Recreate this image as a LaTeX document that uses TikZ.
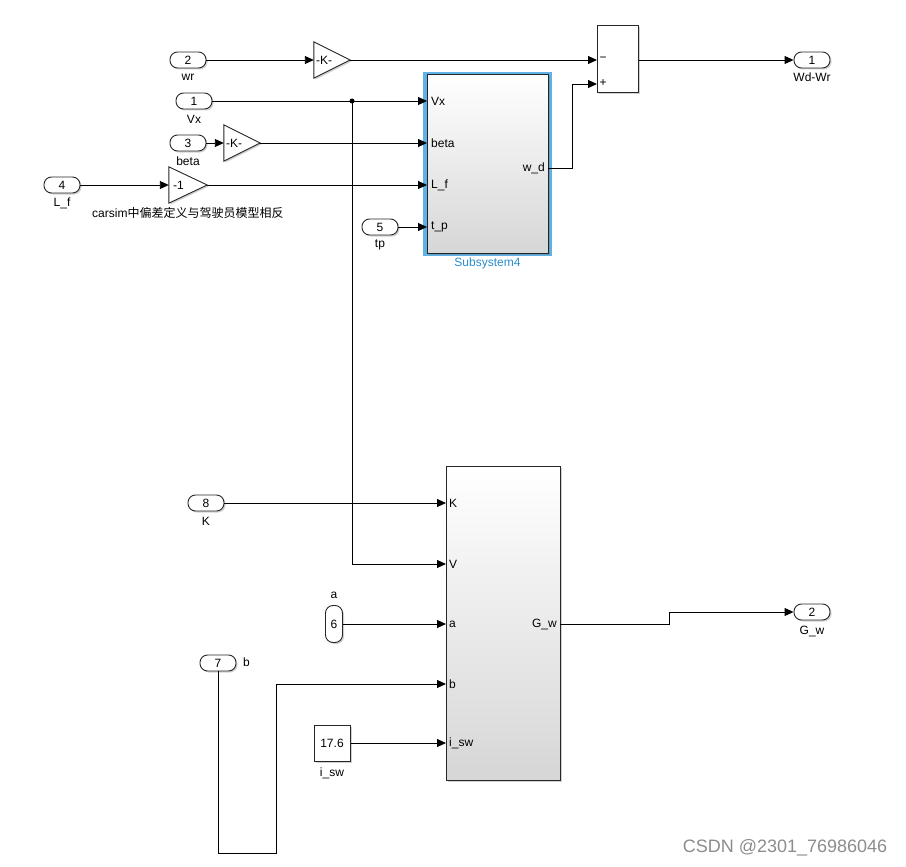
\documentclass[tikz,border=0pt]{standalone}
\usepackage{fontspec}
\setmainfont{Liberation Sans}
\newfontfamily\cjkfont{Noto Sans CJK SC}
\usetikzlibrary{arrows.meta,shadows}
\definecolor{hlblue}{RGB}{96,178,230}
\definecolor{lblblue}{RGB}{40,140,205}
\begin{document}
\begin{tikzpicture}[x=1pt,y=-1pt,
  lbl/.style={font=\fontsize{12}{14}\selectfont, inner sep=0pt},
  shad/.style={drop shadow={shadow xshift=1.5pt,shadow yshift=-1.5pt,opacity=0.3,fill=black!60}},
  pill/.style={lbl, draw=black!85, line width=0.9pt, fill=white, rounded corners=7.5pt, minimum width=36pt, minimum height=16pt, shad},
  vpill/.style={pill, minimum width=17pt, minimum height=37pt},
  gainref/.style={minimum width=36pt, minimum height=36pt, inner sep=0pt},
  gaintri/.style={draw=black!85, line width=0.9pt, fill=white, shad},
  blk/.style={draw=black!85, line width=1pt, fill=white, shad},
  gradblk/.style={draw=black!85, line width=1pt, top color=white, bottom color=black!16, shad},
  sig/.style={line width=0.9pt, -{Triangle[length=9pt,width=8pt]}},
  port/.style={lbl, anchor=west},
  rport/.style={lbl, anchor=east},
]
\useasboundingbox (0,0) rectangle (906,867);

% ---------- inports / outports ----------
\node[pill] (in2) at (188,60) {2};
\node[lbl] at (188,77) {wr};
\node[pill] (in1) at (194,101) {1};
\node[lbl] at (194,119) {Vx};
\node[pill] (in3) at (188,143) {3};
\node[lbl] at (188,161) {beta};
\node[pill] (in4) at (62,185) {4};
\node[lbl] at (62,203) {L\_f};
\node[pill] (in5) at (380,227) {5};
\node[lbl] at (380,245) {tp};
\node[pill] (in8) at (206,503) {8};
\node[lbl] at (206,521) {K};
\node[vpill] (in6) at (334,624) {6};
\node[lbl] at (334,595) {a};
\node[pill] (in7) at (218,663) {7};
\node[lbl, anchor=west] at (243,662) {b};
\node[pill] (out1) at (812,60) {1};
\node[lbl] at (812,77) {Wd-Wr};
\node[pill] (out2) at (812,612) {2};
\node[lbl] at (812,631) {G\_w};

% ---------- gains ----------
\node[gainref] (gw) at (332,60) {};
\draw[gaintri] (gw.north west) -- (gw.east) -- (gw.south west) -- cycle;
\node[lbl, anchor=west] at (316,60) {-K-};
\node[gainref] (gb) at (242,143) {};
\draw[gaintri] (gb.north west) -- (gb.east) -- (gb.south west) -- cycle;
\node[lbl, anchor=west] at (226,143) {-K-};
\node[gainref, minimum width=38pt] (gl) at (188,185) {};
\draw[gaintri] (gl.north west) -- (gl.east) -- (gl.south west) -- cycle;
\node[lbl, anchor=west] at (173,185) {-1};
\node[lbl, anchor=west] at (92,213) {carsim{\cjkfont 中偏差定义与驾驶员模型相反}};

% ---------- sum ----------
\node[blk, minimum width=41pt, minimum height=67pt] (sum) at (617.5,59.5) {};
\node[lbl] at (603,59) {−};
\node[lbl] at (603,83) {+};
\coordinate (summ) at (597,60);
\coordinate (sump) at (597,84);

% ---------- Subsystem4 ----------
\node[draw=hlblue, line width=4.5pt, minimum width=124pt, minimum height=180pt] (s4hl) at (487.5,164) {};
\node[gradblk, minimum width=121pt, minimum height=178pt] (s4) at (487.5,164) {};
\node[lbl, text=lblblue] at (487.5,263) {Subsystem4};
\coordinate (s4vx) at (427,101);
\coordinate (s4beta) at (427,143);
\coordinate (s4lf) at (427,185);
\coordinate (s4tp) at (427,227);
\coordinate (s4wd) at (548,168);
\node[port] at (431,101) {Vx};
\node[port] at (431,143) {beta};
\node[port] at (431,185) {L\_f};
\node[port] at (431,227) {t\_p};
\node[rport] at (545,168) {w\_d};

% ---------- big block ----------
\node[gradblk, minimum width=114pt, minimum height=314pt] (big) at (503,623) {};
\coordinate (bk) at (446,503);
\coordinate (bv) at (446,564);
\coordinate (ba) at (446,624);
\coordinate (bb) at (446,684);
\coordinate (bi) at (446,743);
\coordinate (bg) at (560,624);
\node[port] at (449,503) {K};
\node[port] at (449,564) {V};
\node[port] at (449,624) {a};
\node[port] at (449,684) {b};
\node[port] at (449,743) {i\_sw};
\node[rport] at (557,624) {G\_w};

% ---------- constant ----------
\node[blk, lbl, minimum width=36pt, minimum height=36pt] (c176) at (332,743) {17.6};
\node[lbl] at (332,773) {i\_sw};

% ---------- connectors ----------
\coordinate (jv) at (352,101);
\draw[sig] (in2.east) -- (gw.west);
\draw[sig] (gw.east) -- (summ);
\draw[sig] (sum.east |- summ) -- (out1.west);
\draw[sig] (in1.east) -- (s4vx);
\fill (jv) circle (2.5pt);
\draw[sig] (in3.east) -- (gb.west);
\draw[sig] (gb.east) -- (s4beta);
\draw[sig] (in4.east) -- (gl.west);
\draw[sig] (gl.east) -- (s4lf);
\draw[sig] (in5.east) -- (s4tp);
\draw[sig] (s4wd) -- (572,168) -- (572,84) -- (sump);
\draw[sig] (jv) -- (352,564) -- (bv);
\draw[sig] (in8.east) -- (bk);
\draw[sig] (in6.east) -- (ba);
\draw[sig] (in7.south) -- (218,853) -- (276,853) -- (276,684) -- (bb);
\draw[sig] (c176.east) -- (bi);
\draw[sig] (bg) -- (669,624) -- (669,612) -- (out2.west);

% ---------- watermark ----------
\node[font=\fontsize{18}{20}\selectfont, text=black!45, inner sep=0pt] at (785,848) {CSDN @2301\_76986046};
\end{tikzpicture}
\end{document}
